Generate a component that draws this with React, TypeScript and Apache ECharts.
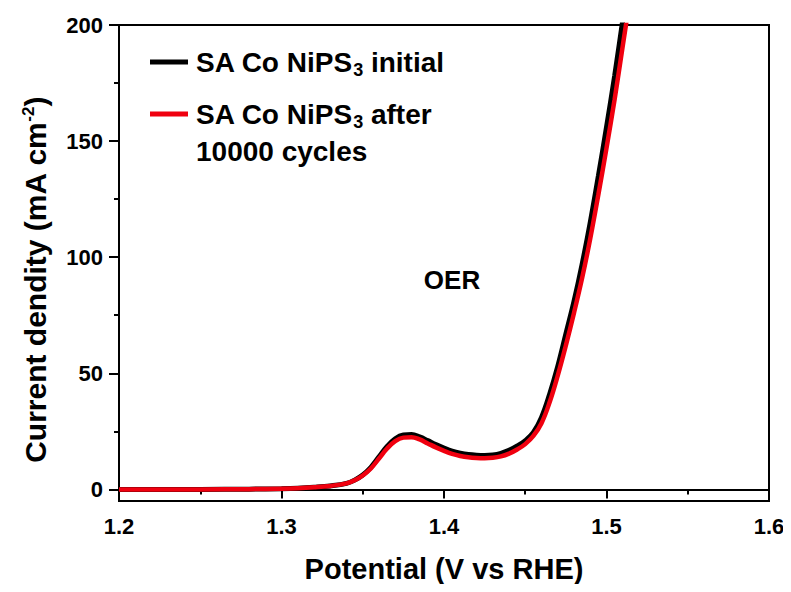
import React, { useEffect, useRef } from "react";
import * as echarts from "echarts";

const potential = [
  1.2, 1.25, 1.28, 1.3, 1.31, 1.32, 1.33, 1.34, 1.345, 1.35, 1.355, 1.36, 1.365, 1.37, 1.375,
  1.38, 1.385, 1.39, 1.395, 1.4, 1.405, 1.41, 1.415, 1.42, 1.425, 1.43, 1.435, 1.44, 1.445,
  1.45, 1.455, 1.46, 1.465, 1.47, 1.475, 1.48, 1.485, 1.49, 1.495, 1.5, 1.505, 1.51, 1.515,
];
const initialCurrent = [
  0, 0, 0.1, 0.3, 0.5, 0.9, 1.5, 2.6, 4, 6.2, 9.5, 14, 18.5, 21.8, 23.4,
  23.6, 22.6, 21, 19.3, 17.8, 16.5, 15.6, 15, 14.7, 14.6, 14.8, 15.5, 16.8, 18.7,
  21, 24.5, 31, 41, 53, 67, 81, 97, 115, 135, 156, 178, 202, 226,
];
const afterCurrent = [
  0, 0, 0.1, 0.3, 0.5, 0.9, 1.5, 2.6, 3.9, 6, 9, 13.3, 17.6, 20.8, 22.3,
  22.5, 21.5, 19.8, 18.1, 16.6, 15.3, 14.4, 13.8, 13.5, 13.4, 13.6, 14.2, 15.4, 17.2,
  19.5, 23, 28.5, 37.5, 49, 62, 76, 91, 108, 127, 147, 168, 191, 214,
];
const yMajorTicks = [0, 50, 100, 150, 200];
const yMinorTicks = [25, 75, 125, 175];
const seriesNames = ["SA Co NiPS3 initial", "SA Co NiPS3 after 10000 cycles"];

const FONT = "'Liberation Sans', Arial, sans-serif";

export default function App() {
  const ref = useRef<HTMLDivElement>(null);
  useEffect(() => {
    if (!ref.current) return;
    const chart = echarts.init(ref.current, null, { renderer: "svg" });
    const toPairs = (ys: number[]) => potential.map((x, i) => [x, ys[i]]);
    const subStyle = {
      fontSize: 18, fontWeight: "bold", fill: "#000", verticalAlign: "bottom",
      padding: [15, 0, 0, 0], fontFamily: FONT,
    };
    chart.setOption({
      animation: false,
      backgroundColor: "#fff",
      textStyle: { fontFamily: FONT },
      grid: {
        left: 119, right: 22, top: 25, bottom: 91,
        show: true, borderColor: "#000", borderWidth: 2, backgroundColor: "transparent",
      },
      xAxis: {
        type: "value", min: 1.2, max: 1.6, interval: 0.1,
        name: "Potential (V vs RHE)", nameLocation: "middle", nameGap: 53,
        nameTextStyle: { fontSize: 29, fontWeight: "bold", color: "#000", fontFamily: FONT },
        axisLine: { show: true, lineStyle: { color: "#000", width: 2 } },
        axisTick: { show: true, length: 9, lineStyle: { color: "#000", width: 2 } },
        minorTick: { show: true, splitNumber: 2, length: 5, lineStyle: { color: "#000", width: 2 } },
        axisLabel: {
          margin: 14, fontSize: 22, fontWeight: "bold", color: "#000", fontFamily: FONT,
          formatter: (v: number) => v.toFixed(1),
        },
        splitLine: { show: false },
      },
      yAxis: [
        {
          type: "value", min: -5, max: 200,
          axisLine: { show: true, lineStyle: { color: "#000", width: 2 } },
          axisTick: { show: true, length: 10, customValues: yMajorTicks, lineStyle: { color: "#000", width: 2 } },
          axisLabel: {
            margin: 16, fontSize: 22, fontWeight: "bold", color: "#000", fontFamily: FONT,
            customValues: yMajorTicks,
          },
          splitLine: { show: false },
        },
        {
          type: "value", min: -5, max: 200, position: "left",
          axisLine: { show: false },
          axisTick: { show: true, length: 5, customValues: yMinorTicks, lineStyle: { color: "#000", width: 2 } },
          axisLabel: { show: false, customValues: yMinorTicks },
          splitLine: { show: false },
        },
      ],
      series: [
        {
          name: seriesNames[0], type: "line", data: toPairs(initialCurrent), showSymbol: false,
          smooth: 0.4, clip: true, lineStyle: { color: "#000", width: 5 }, z: 2,
        },
        {
          name: seriesNames[1], type: "line", data: toPairs(afterCurrent), showSymbol: false,
          smooth: 0.4, clip: true, lineStyle: { color: "#f0000f", width: 4.5 }, z: 3,
        },
      ],
      graphic: [
        {
          type: "text", x: 35, y: 280, rotation: Math.PI / 2,
          style: {
            text: "Current dendity (mA cm{sup|-2})", fill: "#000", fontSize: 30, fontWeight: "bold",
            fontFamily: FONT, align: "center", verticalAlign: "middle",
            rich: { sup: { fontSize: 17, fontWeight: "bold", fill: "#000", verticalAlign: "top", padding: [0, 0, 14, 0], fontFamily: FONT } },
          },
        },
        { type: "line", shape: { x1: 150, y1: 62, x2: 188, y2: 62 }, style: { stroke: "#000", lineWidth: 5 } },
        {
          type: "text", x: 196, y: 62,
          style: {
            text: "SA Co NiPS{sub|3} initial", fill: "#000", fontSize: 28, fontWeight: "bold",
            fontFamily: FONT, verticalAlign: "middle", rich: { sub: subStyle },
          },
        },
        { type: "line", shape: { x1: 150, y1: 114, x2: 188, y2: 114 }, style: { stroke: "#f0000f", lineWidth: 5 } },
        {
          type: "text", x: 196, y: 114,
          style: {
            text: "SA Co NiPS{sub|3} after", fill: "#000", fontSize: 28, fontWeight: "bold",
            fontFamily: FONT, verticalAlign: "middle", rich: { sub: subStyle },
          },
        },
        {
          type: "text", x: 196, y: 151,
          style: { text: "10000 cycles", fill: "#000", fontSize: 28, fontWeight: "bold", fontFamily: FONT, verticalAlign: "middle" },
        },
        {
          type: "text", x: 452, y: 280,
          style: { text: "OER", fill: "#000", fontSize: 26, fontWeight: "bold", fontFamily: FONT, align: "center", verticalAlign: "middle" },
        },
      ],
    });
    return () => chart.dispose();
  }, []);
  return <div ref={ref} style={{ width: 791, height: 592, margin: -8 }} />;
}
